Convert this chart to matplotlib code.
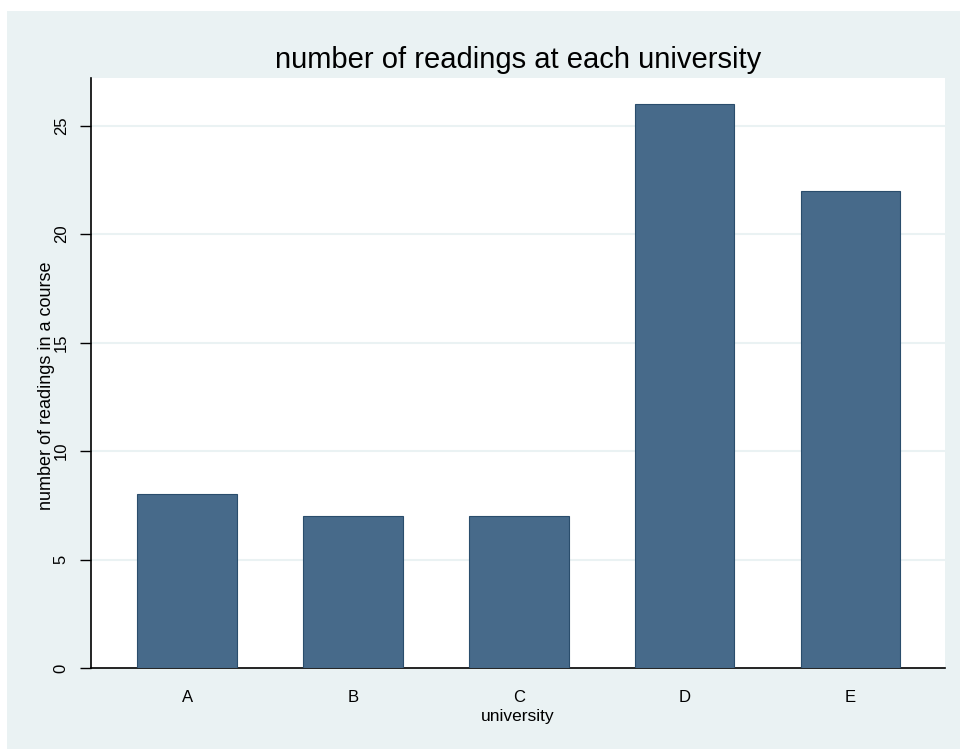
import matplotlib.pyplot as plt
from matplotlib.patches import Rectangle

universities = ["A", "B", "C", "D", "E"]
readings = [8, 7, 7, 26, 22]
yticks = [0, 5, 10, 15, 20, 25]

bg = "#eaf2f3"
bar_col = "#476a8a"

plt.rcParams["font.family"] = ["Liberation Sans", "DejaVu Sans"]

fig = plt.figure(figsize=(9.6, 7.49), dpi=100)
fig.patch.set_facecolor("white")
# stata style grey-blue frame, starts a few px in from the top left
fig.add_artist(Rectangle((7 / 960, 0), 1, 1 - 11 / 749, transform=fig.transFigure,
                         facecolor=bg, edgecolor="none", zorder=0))

ax = fig.add_axes([91 / 960, 81 / 749, (945 - 91) / 960, (668 - 78) / 749])
ax.set_facecolor("white")

x = range(len(universities))
ax.bar(x, readings, width=0.6, color=bar_col, edgecolor="#2a4d6c", linewidth=0.8, zorder=3)

ax.set_xlim(-0.58, 4.57)
ax.set_ylim(0, 27.2)
ax.set_xticks(list(x))
ax.set_xticklabels(universities, fontsize=12)
ax.tick_params(axis="x", length=0, pad=16)
ax.set_yticks(yticks)
ax.set_yticklabels([str(v) for v in yticks], rotation=90, va="center", fontsize=12)
ax.tick_params(axis="y", length=8, width=1, pad=8)

for v in yticks[1:]:
    ax.axhline(v, color=bg, linewidth=1.5, zorder=1)

for s in ["top", "right"]:
    ax.spines[s].set_visible(False)
ax.spines["left"].set_linewidth(1.2)
ax.spines["bottom"].set_linewidth(1.2)

ax.set_title("number of readings at each university", fontsize=21, pad=7)
ax.set_xlabel("university", fontsize=12.5, labelpad=3)
ax.set_ylabel("number of readings in a course", fontsize=13, fontstretch="condensed")
ax.yaxis.set_label_coords(-0.042, 0.478)

plt.savefig("out.png", dpi=100, facecolor=fig.get_facecolor())
